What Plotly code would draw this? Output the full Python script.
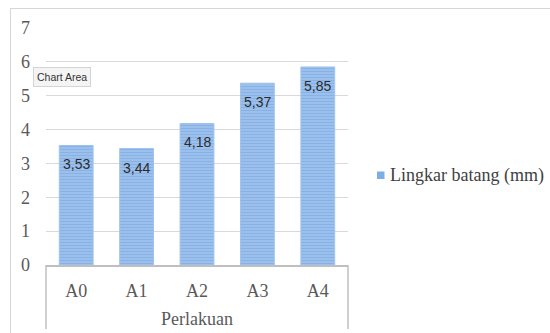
import plotly.graph_objects as go

# Data
perlakuan = ["A0", "A1", "A2", "A3", "A4"]
lingkar_batang = [3.53, 3.44, 4.18, 5.37, 5.85]
series_name = "Lingkar batang (mm)"
y_ticks = [0, 1, 2, 3, 4, 5, 6, 7]

W, H = 550, 333
L, R, T, B = 46, 202, 28, 68
plot_w = W - L - R
plot_h = H - T - B


def px_x(px):
    return (px - L) / plot_w


def px_y(py):
    return (H - B - py) / plot_h


serif = "Liberation Serif, Times New Roman, serif"
sans = "Liberation Sans, Arial, sans-serif"
bar_fill = "#a4c6ee"
bar_stripe = "#6b9ddf"

fig = go.Figure()
fig.add_trace(go.Bar(
    x=perlakuan,
    y=lingkar_batang,
    name=series_name,
    marker=dict(
        color=bar_fill,
        line=dict(color="#9fc3ee", width=1),
        pattern=dict(shape="-", fgcolor=bar_stripe, size=3, solidity=0.55),
    ),
    showlegend=False,
))

# value labels just inside the top of each bar
for cat, val in zip(perlakuan, lingkar_batang):
    fig.add_annotation(
        x=cat, y=val, yshift=-19, showarrow=False,
        text=f"{val:.2f}".replace(".", ","),
        font=dict(family=sans, size=14, color="#2b2b2b"),
    )

# "Chart Area" hover hint
fig.add_annotation(
    x=px_x(62), y=px_y(76.5), xref="paper", yref="paper",
    xanchor="center", yanchor="middle",
    text="Chart Area", showarrow=False,
    font=dict(family=sans, size=10.5, color="#333333"),
    bgcolor="#f4f4f4", bordercolor="#d4d4d4", borderwidth=1, borderpad=3,
)

# legend entry: colour key and series name
fig.add_annotation(
    x=px_x(388), y=px_y(175), xref="paper", yref="paper",
    xanchor="left", yanchor="middle", showarrow=False,
    text=series_name,
    font=dict(family=serif, size=18, color="#404040"),
)

shapes = [
    dict(type="rect", xref="paper", yref="paper",
         x0=px_x(377), x1=px_x(384.5), y0=px_y(179), y1=px_y(171.5),
         fillcolor="#7eaee6", line=dict(width=0)),
]
# category-axis box sides
for px in (L, W - R):
    shapes.append(dict(type="line", xref="paper", yref="paper",
                       x0=px_x(px), x1=px_x(px), y0=0, y1=px_y(329),
                       line=dict(color="#bfbfbf", width=1.5)))
# chart area frame (top and left edges)
shapes.append(dict(type="line", xref="paper", yref="paper",
                   x0=px_x(10), x1=px_x(W + 20), y0=px_y(8.5), y1=px_y(8.5),
                   line=dict(color="#d6d6d6", width=1)))
shapes.append(dict(type="line", xref="paper", yref="paper",
                   x0=px_x(10.5), x1=px_x(10.5), y0=px_y(8.5), y1=px_y(H + 5),
                   line=dict(color="#d6d6d6", width=1)))

fig.update_layout(
    width=W, height=H,
    margin=dict(l=L, r=R, t=T, b=B, pad=0, autoexpand=False),
    paper_bgcolor="white", plot_bgcolor="white",
    bargap=0.44,
    shapes=shapes,
    showlegend=False,
    xaxis=dict(
        automargin=False,
        showline=True, linecolor="#bfbfbf", linewidth=1.5,
        showgrid=False, ticks="",
        ticklabelstandoff=9,
        tickfont=dict(family=serif, size=18, color="#595959"),
        title=dict(text="Perlakuan", standoff=12,
                   font=dict(family=serif, size=18, color="#595959")),
    ),
    yaxis=dict(
        automargin=False,
        range=[0, 7], tickvals=y_ticks,
        showgrid=True, gridcolor="#d9d9d9", gridwidth=1,
        zeroline=False, showline=False, ticks="",
        ticklabelstandoff=15,
        tickfont=dict(family=serif, size=18, color="#595959"),
    ),
)

fig.write_html("out.html")
